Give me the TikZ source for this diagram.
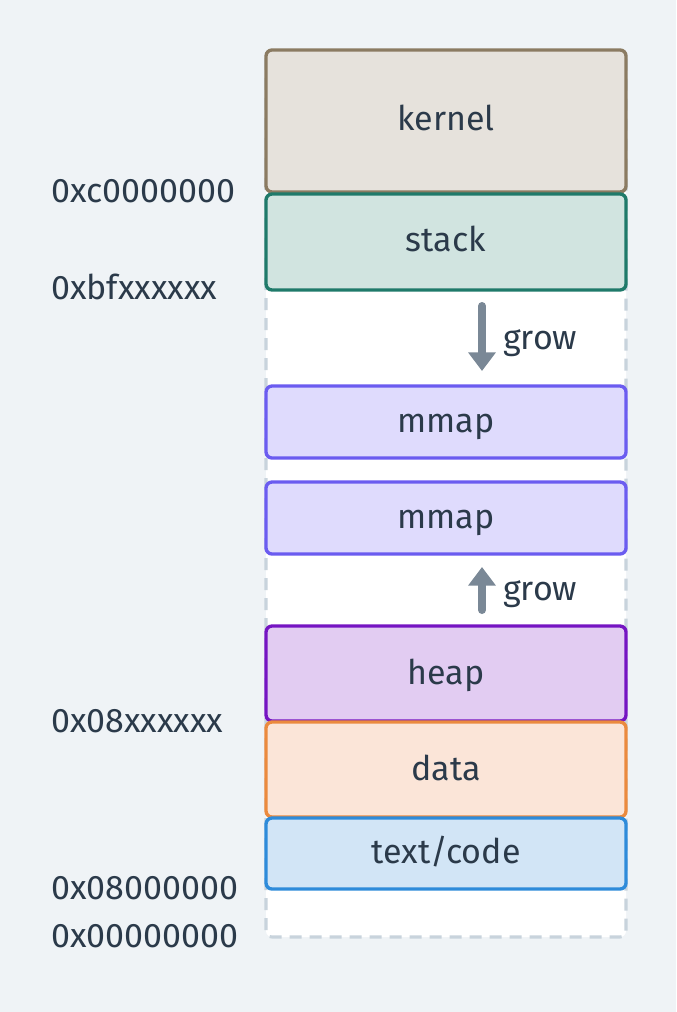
\documentclass[tikz,border=0pt]{standalone}
\usepackage{fontspec}
\setmainfont{Fira Sans}
\usetikzlibrary{arrows.meta}
\definecolor{bg}{HTML}{EFF3F6}
\definecolor{txt}{HTML}{2B3A4A}
\definecolor{dashc}{HTML}{C8D3DC}
\definecolor{arr}{HTML}{7A8896}
\definecolor{kfill}{HTML}{E6E2DC}\definecolor{kdraw}{HTML}{8B7B62}
\definecolor{sfill}{HTML}{D1E4E0}\definecolor{sdraw}{HTML}{1F7A6A}
\definecolor{mfill}{HTML}{DFDBFD}\definecolor{mdraw}{HTML}{6B5CF0}
\definecolor{hfill}{HTML}{E2CCF2}\definecolor{hdraw}{HTML}{7514C2}
\definecolor{dfill}{HTML}{FBE5D8}\definecolor{ddraw}{HTML}{EB8A3E}
\definecolor{tfill}{HTML}{D2E5F6}\definecolor{tdraw}{HTML}{2E8BDA}
\begin{document}
\begin{tikzpicture}[x=0.75pt,y=-0.75pt,
  seg/.style={rounded corners=4.5pt,line width=2.5pt},
  lbl/.style={anchor=base,text=txt,font=\fontsize{25.5}{30}\selectfont,inner sep=0pt},
  addr/.style={anchor=base west,text=txt,font=\fontsize{25.5}{30}\selectfont,inner sep=0pt},
  growlbl/.style={anchor=base west,text=txt,font=\fontsize{25.5}{30}\selectfont,inner sep=0pt},
  growarrow/.style={draw=arr,line width=6pt,line cap=round,-{Triangle[width=20pt,length=14pt,line cap=butt]}}]
\fill[bg] (0,0) rectangle (676,1012);
\useasboundingbox (0,0) rectangle (676,1012);
% dashed container
\draw[dashc,fill=white,line width=2.3pt,dash pattern=on 9pt off 6pt,rounded corners=4.5pt] (266,52) rectangle (626,937);
% segments
\draw[seg,fill=kfill,draw=kdraw] (266,50) rectangle (626,192);
\node[lbl] (kernel) at (446,131) {kernel};
\draw[seg,fill=sfill,draw=sdraw] (266,194) rectangle (626,290);
\node[lbl] (stack) at (446,252) {stack};
\draw[seg,fill=mfill,draw=mdraw] (266,386) rectangle (626,458);
\node[lbl] (mmapa) at (446,432) {mmap};
\draw[seg,fill=mfill,draw=mdraw] (266,482) rectangle (626,554);
\node[lbl] (mmapb) at (446,528) {mmap};
\draw[seg,fill=hfill,draw=hdraw] (266,626) rectangle (626,721);
\node[lbl] (heap) at (446,684) {heap};
\draw[seg,fill=dfill,draw=ddraw] (266,722) rectangle (626,817);
\node[lbl] (data) at (446,780) {data};
\draw[seg,fill=tfill,draw=tdraw] (266,818) rectangle (626,889);
\node[lbl] (textcode) at (446,863) {text/code};
% grow arrows
\coordinate (d1) at (482,306);
\coordinate (d2) at (482,371);
\draw[growarrow] (d1) -- (d2);
\node[growlbl] (growa) at (503,349) {grow};
\coordinate (u1) at (482,610);
\coordinate (u2) at (482,567);
\draw[growarrow] (u1) -- (u2);
\node[growlbl] (growb) at (503,600) {grow};
% addresses
\node[addr] (a1) at (51,203) {0xc0000000};
\node[addr] (a2) at (51,299) {0xbfxxxxxx};
\node[addr] (a3) at (51,732) {0x08xxxxxx};
\node[addr] (a4) at (51,899) {0x08000000};
\node[addr] (a5) at (51,947) {0x00000000};
\end{tikzpicture}
\end{document}
